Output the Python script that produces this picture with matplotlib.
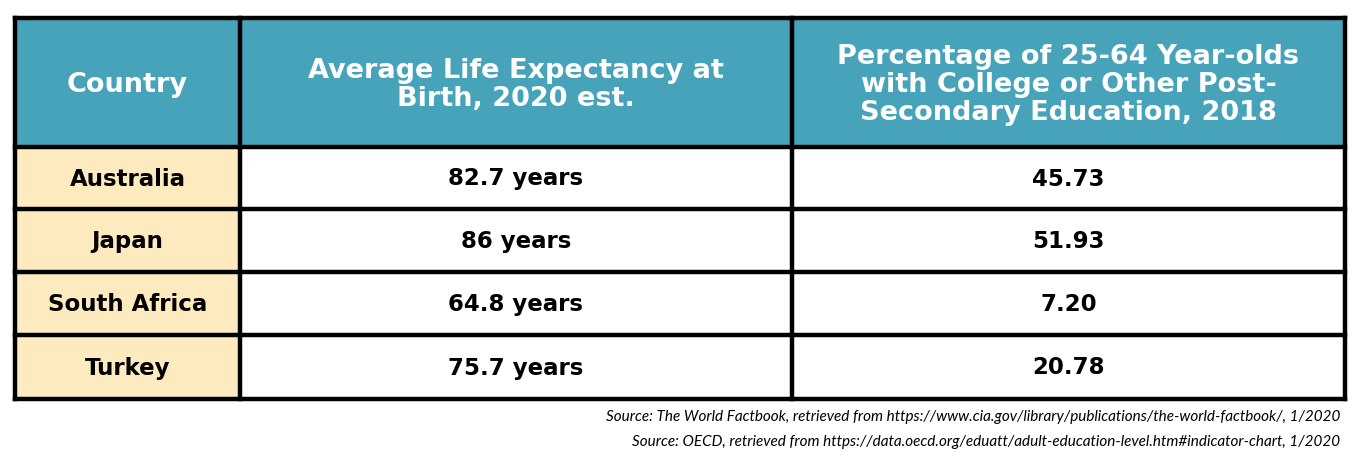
import matplotlib.pyplot as plt
from matplotlib.patches import Rectangle

headers = ["Country", "Average Life Expectancy at\nBirth, 2020 est.",
           "Percentage of 25-64 Year-olds\nwith College or Other Post-\nSecondary Education, 2018"]
countries = ["Australia", "Japan", "South Africa", "Turkey"]
life = ["82.7 years", "86 years", "64.8 years", "75.7 years"]
edu = ["45.73", "51.93", "7.20", "20.78"]
sources = ["Source: The World Factbook, retrieved from https://www.cia.gov/library/publications/the-world-factbook/, 1/2020",
           "Source: OECD, retrieved from https://data.oecd.org/eduatt/adult-education-level.htm#indicator-chart, 1/2020"]

W, H = 1361, 462
fig = plt.figure(figsize=(W / 100, H / 100), dpi=100)
ax = fig.add_axes([0, 0, 1, 1])
ax.set_xlim(0, W)
ax.set_ylim(H, 0)
ax.axis('off')

cols = [15, 240, 792, 1345]
rows = [18, 147, 209, 272, 335, 399]
teal, beige = '#47a3b9', '#fdebbf'
font = dict(family=['DejaVu Sans'], fontweight='bold')

# backgrounds
ax.add_patch(Rectangle((cols[0], rows[0]), cols[-1] - cols[0], rows[1] - rows[0], color=teal))
ax.add_patch(Rectangle((cols[0], rows[1]), cols[1] - cols[0], rows[-1] - rows[1], color=beige))
ax.add_patch(Rectangle((cols[1], rows[1]), cols[-1] - cols[1], rows[-1] - rows[1], color='white'))

# grid lines
for x in cols:
    ax.plot([x, x], [rows[0], rows[-1]], color='black', lw=3.2, solid_capstyle='projecting')
for y in rows:
    ax.plot([cols[0], cols[-1]], [y, y], color='black', lw=3.2, solid_capstyle='projecting')

def cx(i):
    return (cols[i] + cols[i + 1]) / 2

for i, h in enumerate(headers):
    ax.text(cx(i), (rows[0] + rows[1]) / 2 + 2, h, color='white', fontsize=19.5,
            ha='center', va='center', linespacing=1.1, **font)

for r, vals in enumerate(zip(countries, life, edu)):
    yc = (rows[r + 1] + rows[r + 2]) / 2 + 1
    for i, v in enumerate(vals):
        ax.text(cx(i), yc, v, color='black', fontsize=16.5, ha='center', va='center', **font)

ax.text(1340, 417, sources[0], fontsize=11, style='italic', ha='right', va='center',
        family=['Lato', 'DejaVu Sans'])
ax.text(1340, 442, sources[1], fontsize=11, style='italic', ha='right', va='center',
        family=['Lato', 'DejaVu Sans'])

fig.savefig('out.png', dpi=100)
